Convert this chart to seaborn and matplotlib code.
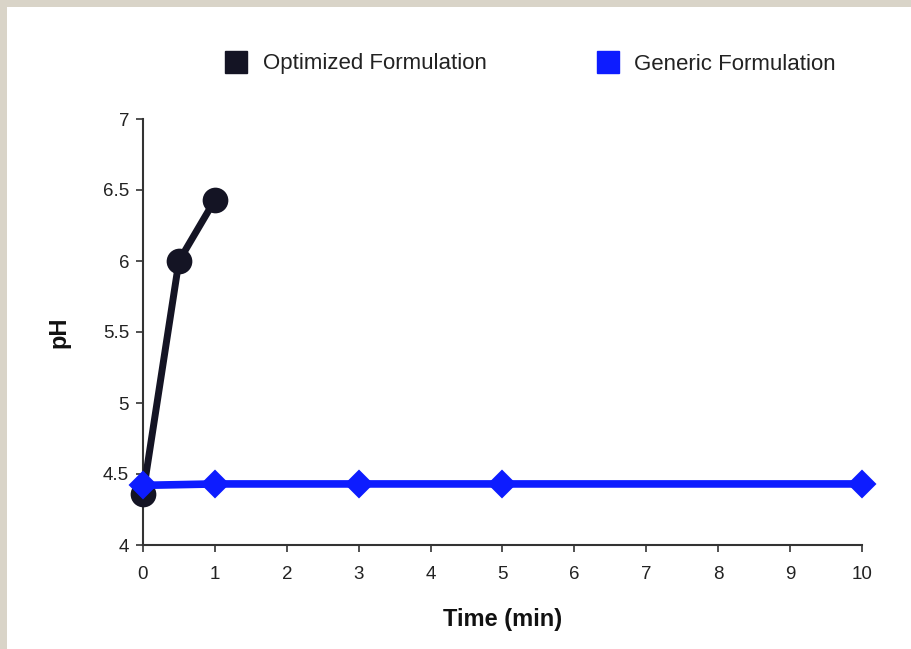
import matplotlib
matplotlib.use("Agg")
import matplotlib.pyplot as plt
from matplotlib.patches import Rectangle
from matplotlib.lines import Line2D
import seaborn as sns
import pandas as pd

# pH over time for the two formulations
optimized_time = [0, 0.5, 1]
optimized_ph = [4.36, 6.00, 6.43]
generic_time = [0, 1, 3, 5, 10]
generic_ph = [4.42, 4.43, 4.43, 4.43, 4.43]
series_names = ["Optimized Formulation", "Generic Formulation"]
x_ticks = [0, 1, 2, 3, 4, 5, 6, 7, 8, 9, 10]
y_ticks = [4, 4.5, 5, 5.5, 6, 6.5, 7]

df = pd.concat([
    pd.DataFrame({"Time": optimized_time, "pH": optimized_ph, "Formulation": series_names[0]}),
    pd.DataFrame({"Time": generic_time, "pH": generic_ph, "Formulation": series_names[1]}),
], ignore_index=True)

sns.set_theme(style="white")
plt.rcParams["font.family"] = ["Liberation Sans", "DejaVu Sans"]

colors = {series_names[0]: "#141424", series_names[1]: "#0d1cff"}
markers = {series_names[0]: "o", series_names[1]: "D"}
sizes = {series_names[0]: 17, series_names[1]: 13}
widths = {series_names[0]: 5.0, series_names[1]: 5.5}

fig = plt.figure(figsize=(9.12, 6.49), dpi=100)
fig.patch.set_facecolor("#d9d4c8")
fig.patches.append(Rectangle((7 / 912, 0), 1, 1 - 7 / 649, transform=fig.transFigure,
                             facecolor="white", edgecolor="none", zorder=-10))

ax = fig.add_axes([143 / 912, 1 - 545 / 649, (862 - 143) / 912, (545 - 119) / 649])
ax.set_facecolor("none")

for i, name in enumerate(series_names):
    sub = df[df["Formulation"] == name]
    sns.lineplot(data=sub, x="Time", y="pH", ax=ax, color=colors[name],
                 marker=markers[name], markersize=sizes[name], linewidth=widths[name],
                 markeredgecolor=colors[name], markeredgewidth=1.5,
                 clip_on=False, zorder=3 + i, legend=False)

ax.set_xlim(0, 10)
ax.set_ylim(4, 7)
ax.set_xticks(x_ticks)
ax.set_yticks(y_ticks)
ax.set_yticklabels([f"{v:g}" for v in y_ticks])
ax.tick_params(axis="both", direction="out", length=5, width=1.2, colors="#333333",
               labelcolor="#222222", labelsize=13.5, left=True, bottom=True)
ax.tick_params(axis="x", pad=10)
ax.tick_params(axis="y", pad=5)
for side in ["top", "right"]:
    ax.spines[side].set_visible(False)
for side in ["left", "bottom"]:
    ax.spines[side].set_color("#333333")
    ax.spines[side].set_linewidth(1.5)

ax.set_xlabel("Time (min)", fontsize=17, fontweight="bold", color="#111111", labelpad=18)
ax.set_ylabel("pH", fontsize=17, fontweight="bold", color="#111111", labelpad=23)

handles = [Line2D([], [], linestyle="none", marker="s", markersize=16,
                  markerfacecolor=colors[n], markeredgecolor=colors[n]) for n in series_names]
fig.legend(handles, series_names, loc="center", bbox_to_anchor=(530.5 / 912, 1 - 64 / 649),
           ncol=2, frameon=False, fontsize=16, handlelength=1.0, handletextpad=0.7,
           columnspacing=4.95, labelcolor="#222222")

fig.savefig("out.png", dpi=100, facecolor=fig.get_facecolor())
